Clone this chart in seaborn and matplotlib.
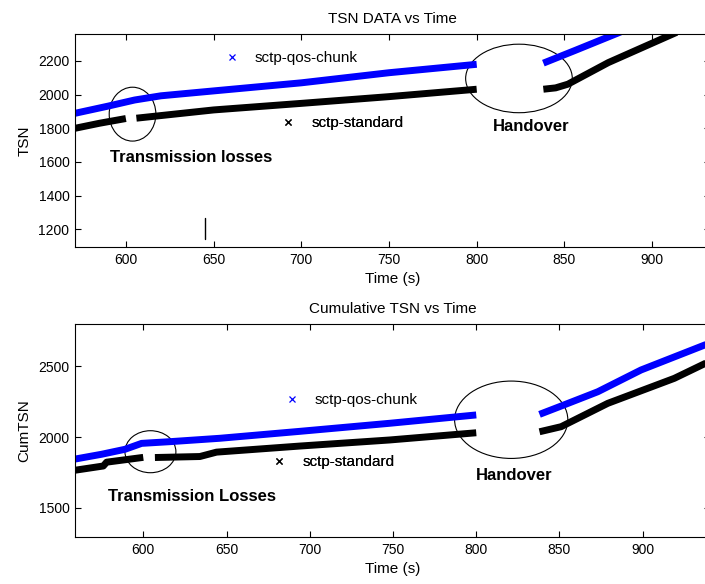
import pandas as pd
import matplotlib.pyplot as plt
import seaborn as sns
from matplotlib.lines import Line2D
from matplotlib.patches import Ellipse

# TSN DATA vs Time (top panel)
top_qos_t = [571, 590, 605, 620, 650, 700, 750, 800, 838, 856, 882]
top_qos_tsn = [1889, 1932, 1968, 1993, 2022, 2070, 2130, 2180, 2187, 2262, 2372]
top_qos_seg = [0, 0, 0, 0, 0, 0, 0, 0, 1, 1, 1]

top_std_t = [571, 585, 600, 606, 650, 700, 750, 800, 838, 845, 852, 875, 914]
top_std_tsn = [1800, 1830, 1858, 1860, 1909, 1948, 1988, 2032, 2032, 2040, 2062, 2190, 2370]
top_std_seg = [0, 0, 0, 1, 1, 1, 1, 1, 2, 2, 2, 2, 2]

# the lone vertical stroke near t=645
stray_t = [645, 645]
stray_tsn = [1140, 1265]

# Cumulative TSN vs Time (bottom panel)
bot_qos_t = [559, 575, 589, 599, 616, 646, 694, 748, 800, 838, 851, 873, 899, 941]
bot_qos_tsn = [1844, 1878, 1913, 1955, 1967, 1991, 2040, 2097, 2156, 2160, 2219, 2320, 2474, 2668]
bot_qos_seg = [0, 0, 0, 0, 0, 0, 0, 0, 0, 1, 1, 1, 1, 1]

bot_std_t = [559, 576, 578, 600, 607, 634, 644, 694, 748, 800, 838, 851, 879, 919, 941]
bot_std_tsn = [1765, 1795, 1822, 1856, 1855, 1862, 1893, 1936, 1979, 2030, 2037, 2073, 2238, 2415, 2540]
bot_std_seg = [0, 0, 0, 0, 1, 1, 1, 1, 1, 1, 2, 2, 2, 2, 2]

top_yticks = [1200, 1400, 1600, 1800, 2000, 2200]
bot_yticks = [1500, 2000, 2500]
xticks = [600, 650, 700, 750, 800, 850, 900]

sns.set_style('ticks')
plt.rcParams['font.family'] = ['Liberation Sans', 'DejaVu Sans']
plt.rcParams['text.color'] = 'black'
plt.rcParams['axes.labelcolor'] = 'black'
plt.rcParams['xtick.color'] = 'black'
plt.rcParams['ytick.color'] = 'black'

BLUE = '#0000ff'

fig = plt.figure(figsize=(7.05, 5.84), dpi=100)
ax1 = fig.add_axes([75 / 705, 1 - 247 / 584, 635 / 705, 213 / 584])
ax2 = fig.add_axes([75 / 705, 1 - 537 / 584, 635 / 705, 213 / 584])


def draw_band(ax, t, v, seg, color):
    df = pd.DataFrame({'t': t, 'v': v, 'seg': seg})
    sns.lineplot(data=df, x='t', y='v', units='seg', estimator=None, sort=False,
                 color=color, linewidth=5, solid_capstyle='butt', legend=False, ax=ax)


def fake_legend(ax, fx, fy, color, label):
    h = Line2D([], [], ls='none', marker='x', color=color, markersize=5, mew=0.9)
    leg = ax.legend([h], [label], loc='center left', bbox_to_anchor=(fx, fy),
                    bbox_transform=ax.transAxes, frameon=False, borderpad=0,
                    borderaxespad=0, handlelength=1.0, handletextpad=1.0, fontsize=11,
                    labelcolor='black')
    ax.add_artist(leg)


def style_axes(ax, title, ylabel):
    ax.set_title(title, fontsize=11, pad=8, color='black')
    ax.set_xlabel('Time (s)', fontsize=11, labelpad=4)
    ax.set_ylabel(ylabel, fontsize=11, labelpad=5)
    ax.set_xticks(xticks)
    ax.tick_params(direction='in', length=4, width=0.8, labelsize=10, pad=4,
                   top=True, right=True, colors='black')
    for s in ax.spines.values():
        s.set_linewidth(0.8)
        s.set_color('black')


# top panel
draw_band(ax1, top_qos_t, top_qos_tsn, top_qos_seg, BLUE)
draw_band(ax1, top_std_t, top_std_tsn, top_std_seg, 'black')
sns.lineplot(x=stray_t, y=stray_tsn, estimator=None, sort=False, color='black',
             linewidth=1, ax=ax1)
ax1.set_xlim(571, 933)
ax1.set_ylim(1095, 2360)
ax1.set_yticks(top_yticks)
style_axes(ax1, 'TSN DATA vs Time', 'TSN')
ax1.add_patch(Ellipse((603.8, 1884), 26.6, 320, fill=False, ec='black', lw=0.8))
ax1.add_patch(Ellipse((824.1, 2096), 60.8, 407, fill=False, ec='black', lw=0.8))
ax1.text(590.9, 1625, 'Transmission losses', fontsize=12, fontweight='bold', va='center')
ax1.text(809.3, 1810, 'Handover', fontsize=12, fontweight='bold', va='center')
fake_legend(ax1, 0.2353, 0.887, BLUE, 'sctp-qos-chunk')
fake_legend(ax1, 0.3239, 0.581, 'black', 'sctp-standard')

# bottom panel
draw_band(ax2, bot_qos_t, bot_qos_tsn, bot_qos_seg, BLUE)
draw_band(ax2, bot_std_t, bot_std_tsn, bot_std_seg, 'black')
ax2.set_xlim(559, 940.4)
ax2.set_ylim(1293, 2799)
ax2.set_yticks(bot_yticks)
style_axes(ax2, 'Cumulative TSN vs Time', 'CumTSN')
ax2.add_patch(Ellipse((604.3, 1896), 30.6, 297, fill=False, ec='black', lw=0.8))
ax2.add_patch(Ellipse((821, 2122), 68, 547, fill=False, ec='black', lw=0.8))
ax2.text(578.8, 1578, 'Transmission Losses', fontsize=12, fontweight='bold', va='center')
ax2.text(800, 1731, 'Handover', fontsize=12, fontweight='bold', va='center')
fake_legend(ax2, 0.3293, 0.642, BLUE, 'sctp-qos-chunk')
fake_legend(ax2, 0.310, 0.350, 'black', 'sctp-standard')

fig.savefig('out.png', dpi=100, facecolor='white')
